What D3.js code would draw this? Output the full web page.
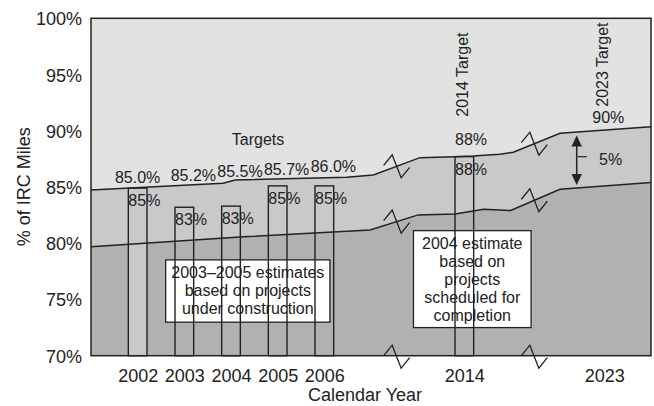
<!DOCTYPE html>
<html>
<head>
<meta charset="utf-8">
<script src="https://cdn.jsdelivr.net/npm/d3@7"></script>
<style>
  body { margin: 0; background: #fff; }
  svg text { font-family: "Liberation Sans", Arial, sans-serif; fill: #222; }
</style>
</head>
<body>
<svg id="chart"></svg>
<script>
// x positions are slots on a broken axis: 2002..2006 = 0..4, 2014 = 7, 2023 = 10
const tickPos = [0, 1, 2, 3, 4, 7, 10];
const tickLabels = ["2002", "2003", "2004", "2005", "2006", "2014", "2023"];
const yTicks = [70, 75, 80, 85, 90, 95, 100];

// target line (upper)
const targetPos = [-1, 1.83, 2.09, 4.48, 5.05, 6.05, 6.8, 7.19, 7.76, 8.05, 9.05, 11];
const targetVal = [84.74, 85.33, 85.63, 85.87, 86.07, 87.61, 87.7, 87.76, 87.91, 88.09, 89.78, 90.36];

// estimate line (lower)
const estPos = [-1, 2.36, 4.98, 6.01, 6.8, 7.19, 7.41, 7.98, 9.05, 11];
const estVal = [79.68, 80.59, 81.18, 82.52, 82.6, 82.87, 83.02, 82.9, 84.8, 85.39];

// bars
const barPos = [0, 1, 2, 3, 4, 7];
const barVal = [84.9, 83.2, 83.3, 85.1, 85.1, 87.7];
const barLabels = ["85%", "83%", "83%", "85%", "85%", "88%"];

// target labels above the line
const targetLabelPos = [0, 1, 2, 3, 4];
const targetLabelVal = [85.0, 85.2, 85.5, 85.7, 86.0];
const targetLabels = ["85.0%", "85.2%", "85.5%", "85.7%", "86.0%"];

const breakPos = [5.55, 8.5];

const W = 654, H = 406;
const margin = {top: 18.3, right: 3, bottom: 50.3, left: 91};

const svg = d3.select("#chart").attr("width", W).attr("height", H);

const x = d3.scaleLinear().domain([-1, 11]).range([margin.left, W - margin.right]);
const y = d3.scaleLinear().domain([70, 100]).range([H - margin.bottom, margin.top]);
const barW = x(0.4) - x(0);

const target = targetPos.map((p, i) => ({p, v: targetVal[i]}));
const est = estPos.map((p, i) => ({p, v: estVal[i]}));

const interp = (pts, p) => {
  for (let i = 1; i < pts.length; i++) {
    if (p <= pts[i].p) {
      const a = pts[i - 1], b = pts[i];
      return a.v + (b.v - a.v) * (p - a.p) / (b.p - a.p);
    }
  }
  return pts[pts.length - 1].v;
};

// background bands
svg.append("rect")
  .attr("x", x(-1)).attr("y", y(100))
  .attr("width", x(11) - x(-1)).attr("height", y(70) - y(100))
  .attr("fill", "#e2e2e2");

const area = d3.area().x(d => x(d.p)).y0(y(70)).y1(d => y(d.v));
svg.append("path").datum(target).attr("d", area).attr("fill", "#c9c9c9");
svg.append("path").datum(est).attr("d", area).attr("fill", "#b1b1b1");

// annotation boxes (drawn under the bars)
const boxes = [
  {x0: 0.6, x1: 4.12, y0: 78.52, y1: 72.98, lines: ["2003\u20132005 estimates", "based on projects", "under construction"]},
  {x0: 5.91, x1: 8.43, y0: 81.12, y1: 72.5, lines: ["2004 estimate", "based on", "projects", "scheduled for", "completion"]}
];
boxes.forEach(b => {
  svg.append("rect")
    .attr("x", x(b.x0)).attr("y", y(b.y0))
    .attr("width", x(b.x1) - x(b.x0)).attr("height", y(b.y1) - y(b.y0))
    .attr("fill", "#fff").attr("stroke", "#222").attr("stroke-width", 1.3);
  const t = svg.append("text")
    .attr("text-anchor", "middle")
    .attr("font-size", "16px");
  b.lines.forEach((l, i) => {
    t.append("tspan")
      .attr("x", (x(b.x0) + x(b.x1)) / 2)
      .attr("y", y(b.y0) + 18 + i * 18)
      .text(l);
  });
});

// bars
svg.selectAll("rect.bar")
  .data(barPos)
  .join("rect")
  .attr("class", "bar")
  .attr("x", d => x(d) - barW / 2)
  .attr("width", barW)
  .attr("y", (d, i) => y(barVal[i]))
  .attr("height", (d, i) => y(70) - y(barVal[i]))
  .attr("fill", (d, i) => i === 0 ? "#c9c9c9" : "none")
  .attr("stroke", "#222")
  .attr("stroke-width", 1.4);

svg.selectAll("text.barlab")
  .data(barPos)
  .join("text")
  .attr("class", "barlab")
  .attr("x", d => x(d) - barW / 2)
  .attr("y", (d, i) => y(barVal[i]) + 18)
  .attr("font-size", "16px")
  .text((d, i) => barLabels[i]);

// lines
const line = d3.line().x(d => x(d.p)).y(d => y(d.v));
[target, est].forEach(pts => {
  svg.append("path").datum(pts).attr("d", line)
    .attr("fill", "none").attr("stroke", "#222").attr("stroke-width", 1.5);
});

// frame
svg.append("rect")
  .attr("x", x(-1)).attr("y", y(100))
  .attr("width", x(11) - x(-1)).attr("height", y(70) - y(100))
  .attr("fill", "none").attr("stroke", "#222").attr("stroke-width", 1.5);

// axis break zigzags
const zig = [[-13, -1], [-4.5, -11.5], [4.5, 11.5], [13, 1]];
breakPos.forEach(p => {
  [y(interp(target, p)), y(interp(est, p)), y(70) + 1].forEach(cy => {
    svg.append("path")
      .attr("d", d3.line()(zig.map(z => [x(p) + z[0], cy + z[1]])))
      .attr("fill", "none").attr("stroke", "#222").attr("stroke-width", 1.3);
  });
});

// target labels
svg.selectAll("text.tlab")
  .data(targetLabelPos)
  .join("text")
  .attr("class", "tlab")
  .attr("x", (d, i) => x(d) + (i === 0 ? 0 : 9))
  .attr("y", (d, i) => y(targetLabelVal[i]) - 4)
  .attr("text-anchor", "middle")
  .attr("font-size", "16px")
  .text((d, i) => targetLabels[i]);

svg.append("text")
  .attr("x", 258).attr("y", 145)
  .attr("text-anchor", "middle").attr("font-size", "16px")
  .text("Targets");

// 2014 / 2023 target annotations
svg.append("text")
  .attr("x", x(7) - barW / 2).attr("y", y(88) - 8)
  .attr("font-size", "16px").text("88%");
svg.append("text")
  .attr("x", x(10) + 4).attr("y", y(90) - 7.5)
  .attr("text-anchor", "middle").attr("font-size", "16px").text("90%");
svg.append("text")
  .attr("transform", `translate(${x(7) + 3.5},116.7) rotate(-90)`)
  .attr("font-size", "16px").text("2014 Target");
svg.append("text")
  .attr("transform", `translate(${x(10) + 4},106.7) rotate(-90)`)
  .attr("font-size", "16px").text("2023 Target");

// 5% gap arrow
const ax = 576.7, aTop = y(89.58), aBot = y(85.18);
svg.append("line")
  .attr("x1", ax).attr("x2", ax).attr("y1", aTop + 6).attr("y2", aBot - 6)
  .attr("stroke", "#222").attr("stroke-width", 1.5);
svg.append("path")
  .attr("d", `M${ax},${aTop} L${ax - 5.2},${aTop + 11} L${ax + 5.2},${aTop + 11} Z`)
  .attr("fill", "#222");
svg.append("path")
  .attr("d", `M${ax},${aBot} L${ax - 5.2},${aBot - 11} L${ax + 5.2},${aBot - 11} Z`)
  .attr("fill", "#222");
svg.append("line")
  .attr("x1", ax + 1).attr("x2", ax + 10).attr("y1", 156.7).attr("y2", 156.7)
  .attr("stroke", "#222").attr("stroke-width", 1.2);
svg.append("text")
  .attr("x", 599).attr("y", 165)
  .attr("font-size", "16px").text("5%");

// axes
const yAxis = d3.axisLeft(y)
  .tickValues(yTicks)
  .tickSize(0)
  .tickPadding(9)
  .tickFormat(d => d + "%");
const yAxisG = svg.append("g")
  .attr("transform", `translate(${margin.left},0)`)
  .call(yAxis);
yAxisG.select(".domain").remove();
yAxisG.selectAll("text")
  .attr("dy", "0.36em")
  .style("font-size", "18px")
  .style("font-family", "'Liberation Sans', Arial, sans-serif")
  .attr("fill", "#222");

const xAxis = d3.axisBottom(x)
  .tickValues(tickPos)
  .tickSize(0)
  .tickPadding(13.5)
  .tickFormat((d, i) => tickLabels[i]);
const xAxisG = svg.append("g")
  .attr("transform", `translate(0,${y(70)})`)
  .call(xAxis);
xAxisG.select(".domain").remove();
xAxisG.selectAll("text")
  .style("font-size", "18px")
  .style("font-family", "'Liberation Sans', Arial, sans-serif")
  .attr("fill", "#222");

svg.append("text")
  .attr("x", 365).attr("y", 401)
  .attr("text-anchor", "middle").attr("font-size", "18px")
  .text("Calendar Year");

svg.append("text")
  .attr("transform", "translate(30,186.7) rotate(-90)")
  .attr("text-anchor", "middle").attr("font-size", "18px")
  .text("% of IRC Miles");
</script>
</body>
</html>
